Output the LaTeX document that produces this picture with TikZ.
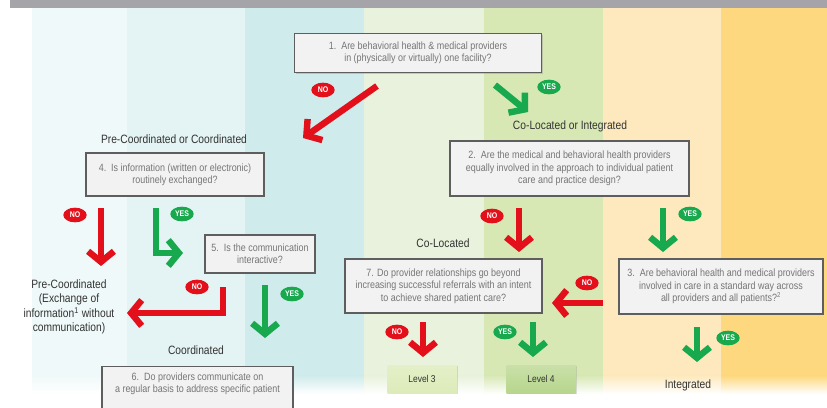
\documentclass[tikz,border=0pt]{standalone}
\usepackage{fontspec}
\setmainfont{Liberation Sans}[FakeStretch=0.85]
\usetikzlibrary{arrows.meta, positioning, shadows, shapes.geometric}
\definecolor{topband}{HTML}{A4A4A9}
\definecolor{stripeA}{HTML}{F0F9F9}
\definecolor{stripeB}{HTML}{E4F3F3}
\definecolor{stripeC}{HTML}{CFEBEB}
\definecolor{stripeD}{HTML}{E9F2DC}
\definecolor{stripeE}{HTML}{D8E8B5}
\definecolor{stripeF}{HTML}{FDE9BD}
\definecolor{stripeG}{HTML}{FDD87E}
\definecolor{boxline}{HTML}{5E5E5E}
\definecolor{boxfill}{HTML}{F2F2F2}
\definecolor{boxtext}{HTML}{767676}
\definecolor{labeltext}{HTML}{333333}
\definecolor{nored}{HTML}{E3101B}
\definecolor{yesgreen}{HTML}{18A84D}
\definecolor{levelA}{HTML}{DDEBBA}
\definecolor{levelB}{HTML}{B7D68C}

\begin{document}
\begin{tikzpicture}[x=0.03cm, y=-0.03cm,
    question/.style={draw=boxline, line width=1pt, fill=boxfill, text=boxtext,
        align=center, font=\fontsize{9}{10.6}\selectfont, inner sep=2pt,
        drop shadow={opacity=0.35, shadow xshift=1.2pt, shadow yshift=-1.2pt}},
    outcome/.style={text=labeltext, align=center, font=\fontsize{10.3}{12.2}\selectfont},
    levelbox/.style={text=labeltext, font=\fontsize{8.5}{9}\selectfont,
        minimum width=2.07cm, minimum height=0.84cm,
        drop shadow={opacity=0.25, shadow xshift=1pt, shadow yshift=-1pt}},
    nobadge/.style={ellipse, fill=nored, text=white, inner sep=0pt,
        font=\bfseries\fontsize{7}{7}\selectfont, minimum width=0.7cm, minimum height=0.44cm},
    yesbadge/.style={nobadge, fill=yesgreen},
    noarrow/.style={draw=nored, line width=5.5pt, -{Straight Barb[length=9pt, width=22pt]}},
    yesarrow/.style={noarrow, draw=yesgreen},
]
\useasboundingbox (0,0) rectangle (827,407);
\clip (0,0) rectangle (827,407);
\fill[white] (0,0) rectangle (827,407);
\foreach \xa/\xb/\col in {32/127/stripeA, 127/245/stripeB, 245/364/stripeC,
    364/484/stripeD, 484/603/stripeE, 603/721/stripeF, 721/828/stripeG} {
  \fill[\col] (\xa,8) rectangle (\xb,376);
  \shade[top color=\col, bottom color=white] (\xa,375.5) rectangle (\xb,394);
}
\fill[topband] (10,0) rectangle (827,8);

\node[question, minimum width=7.41cm, minimum height=1.17cm] (q1) at (418,53)
    {1.\ \ Are behavioral health \& medical providers\\in (physically or virtually) one facility?};
\node[outcome] (precoordor) at (174,139) {Pre-Coordinated or Coordinated};
\node[outcome] (colocor) at (570,126) {Co-Located or Integrated};

\node[question, minimum width=5.34cm, minimum height=1.29cm] (q4) at (175,174.5)
    {4.\ \ Is information (written or electronic)\\routinely exchanged?};
\node[question, minimum width=3.3cm, minimum height=1.14cm] (q5) at (260,254)
    {5.\ \ Is the communication\\interactive?};
\node[question, minimum width=5.73cm, anchor=north, inner ysep=5pt] (q6) at (197.5,366)
    {6.\ \ Do providers communicate on\\a regular basis to address specific patient\rule[-40pt]{0pt}{0pt}};
\node[outcome] (precoord) at (69,307)
    {Pre-Coordinated\\(Exchange of\\information\textsuperscript{1} without\\communication)};
\node[outcome] (coord) at (196,350) {Coordinated};

\node[question, minimum width=7.17cm, minimum height=1.65cm] (q2) at (569.5,168.5)
    {2.\ \ Are the medical and behavioral health providers\\equally involved in the approach to individual patient\\care and practice design?};
\node[outcome] (coloc) at (443,243) {Co-Located};
\node[question, minimum width=5.91cm, minimum height=1.62cm] (q7) at (443.5,286)
    {7. Do provider relationships go beyond\\increasing successful referrals with an intent\\to achieve shared patient care?};
\node[question, minimum width=6.12cm, minimum height=1.65cm] (q3) at (721,286.5)
    {3.\ \ Are behavioral health and medical providers\\involved in care in a standard way across\\all providers and all patients?\textsuperscript{2}};
\node[levelbox, top color=levelA!80!white, bottom color=levelA] (lvl3) at (422,379) {Level 3};
\node[levelbox, top color=levelB!75!white, bottom color=levelB] (lvl4) at (541,379) {Level 4};
\node[outcome] (integ) at (688,385) {Integrated};

\node[nobadge] (no1) at (323,90) {NO};
\node[yesbadge] (yes1) at (549,87) {YES};
\node[nobadge] (no4) at (75,215) {NO};
\node[yesbadge] (yes4) at (182,214) {YES};
\node[nobadge] (no5) at (197,287) {NO};
\node[yesbadge] (yes5) at (292,294) {YES};
\node[nobadge] (no2) at (492,216) {NO};
\node[yesbadge] (yes2) at (690,214) {YES};
\node[nobadge] (no3) at (587,283) {NO};
\node[yesbadge] (yes3) at (728,338) {YES};
\node[nobadge] (no7) at (397,332) {NO};
\node[yesbadge] (yes7) at (505,332) {YES};

\coordinate (r1s) at (377,86);  \coordinate (r1e) at (303,138);
\coordinate (g1s) at (495,85);  \coordinate (g1e) at (528,112);
\coordinate (r4s) at (101,208); \coordinate (r4e) at (101,266);
\coordinate (g4s) at (156,208); \coordinate (g4e) at (183,253);
\coordinate (r5s) at (223,287); \coordinate (r5e) at (127,313);
\coordinate (g5s) at (265,285); \coordinate (g5e) at (265,338);
\coordinate (r2s) at (519,208); \coordinate (r2e) at (519,252);
\coordinate (g2s) at (663,208); \coordinate (g2e) at (663,252);
\coordinate (r3s) at (603,303); \coordinate (r3e) at (552,303);
\coordinate (g3s) at (697,327); \coordinate (g3e) at (697,362);
\coordinate (r7s) at (423,322); \coordinate (r7e) at (423,357);
\coordinate (g7s) at (533,322); \coordinate (g7e) at (533,357);

\draw[noarrow] (r1s) -- (r1e);
\draw[yesarrow] (g1s) -- (g1e);
\draw[noarrow] (r4s) -- (r4e);
\draw[yesarrow] (g4s) |- (g4e);
\draw[noarrow] (r5s) |- (r5e);
\draw[yesarrow] (g5s) -- (g5e);
\draw[noarrow] (r2s) -- (r2e);
\draw[yesarrow] (g2s) -- (g2e);
\draw[noarrow] (r3s) -- (r3e);
\draw[yesarrow] (g3s) -- (g3e);
\draw[noarrow] (r7s) -- (r7e);
\draw[yesarrow] (g7s) -- (g7e);
\end{tikzpicture}
\end{document}
